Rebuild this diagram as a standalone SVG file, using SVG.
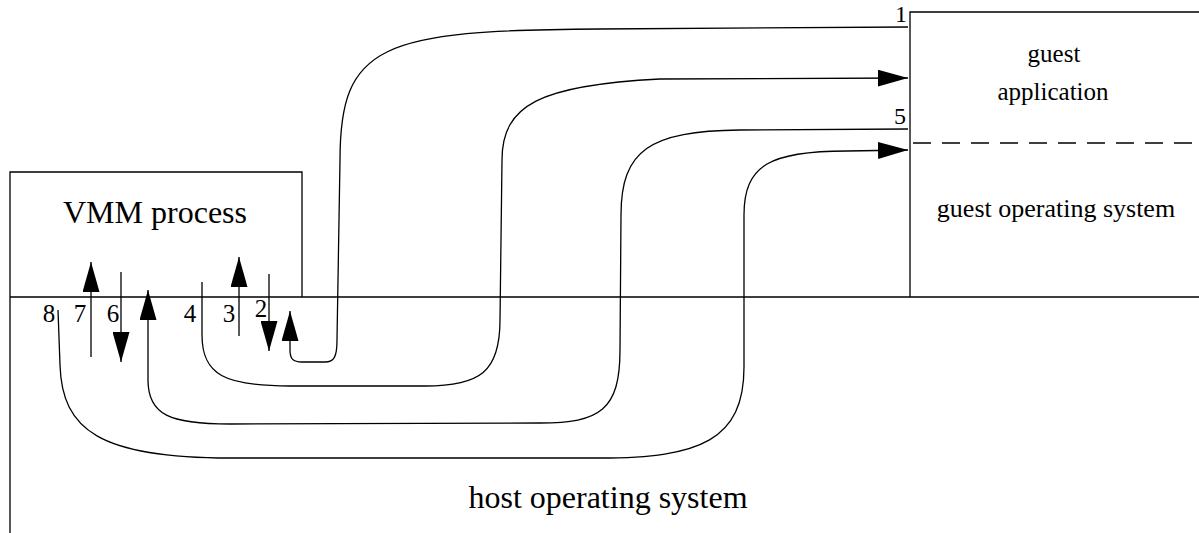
<svg xmlns="http://www.w3.org/2000/svg" width="1199" height="533" viewBox="0 0 1199 533">
<style>
.ln{fill:none;stroke:#000;stroke-width:1.3}
.t{font-family:"Liberation Serif","Times New Roman",serif;fill:#000}
.d{font-size:25px;text-anchor:middle}
.arr{marker-end:url(#ah)}
</style>
<defs>
<marker id="ah" markerUnits="userSpaceOnUse" markerWidth="31" markerHeight="17" refX="30" refY="8.5" orient="auto">
<path d="M0,0 L30,8.5 L0,17 Z" fill="#000"/>
</marker>
</defs>
<rect width="1199" height="533" fill="#fff"/>
<g id="host-os">
<path class="ln" d="M10 297 L1199 297 M10 297 L10 533"/>
<text class="t" x="608" y="508" font-size="32" text-anchor="middle">host operating system</text>
</g>
<g id="vmm-process">
<path class="ln" d="M10 297 L10 172 L302 172 L302 297"/>
<text class="t" x="155" y="223" font-size="32" text-anchor="middle">VMM process</text>
</g>
<g id="guest">
<path class="ln" d="M1199 12 L910 12 L910 297"/>
<path class="ln" d="M910 143 L1199 143" stroke-dasharray="18 11" stroke-dashoffset="-3"/>
<text class="t" x="1054" y="62" font-size="25" text-anchor="middle">guest</text>
<text class="t" x="1053" y="100" font-size="25" text-anchor="middle">application</text>
<text class="t" x="1056" y="217" font-size="26" text-anchor="middle">guest operating system</text>
</g>
<g id="labels">
<text class="t" x="907" y="22" font-size="24" text-anchor="end">1</text>
<text class="t" x="906" y="124" font-size="24" text-anchor="end">5</text>
<text class="t d" x="49" y="322">8</text>
<text class="t d" x="80" y="322">7</text>
<text class="t d" x="113" y="322">6</text>
<text class="t d" x="190" y="322">4</text>
<text class="t d" x="229" y="322">3</text>
<text class="t d" x="261" y="317">2</text>
</g>
<g id="connectors">
<path class="ln arr" d="M908 27 L600 29 C380 30 340 45 340 160 L337 340 C337 357 334 362 325 362 L302 362 C293 362 290 359 290 350 L290 311"/>
<path class="ln arr" d="M202 282 L202 335 C202 375 225 386 290 386 L425 386 C480 386 500 372 500 320 L502 160 C502 105 540 85 660 79 L908 78"/>
<path class="ln arr" d="M908 129 L740 130 C650 131 621 150 621 215 L620 350 C620 410 600 423 540 423 L230 424 C170 424 148 415 148 380 L148 290"/>
<path class="ln arr" d="M58 310 L60 365 C62 430 100 458 230 458 L600 458 C700 458 744 440 744 367 L744 215 C744 165 770 151 847 151 L908 150"/>
<path class="ln arr" d="M91 357 L91 262"/>
<path class="ln arr" d="M121 272 L121 362"/>
<path class="ln arr" d="M239 336 L239 257"/>
<path class="ln arr" d="M269 274 L269 351"/>
</g>
</svg>
